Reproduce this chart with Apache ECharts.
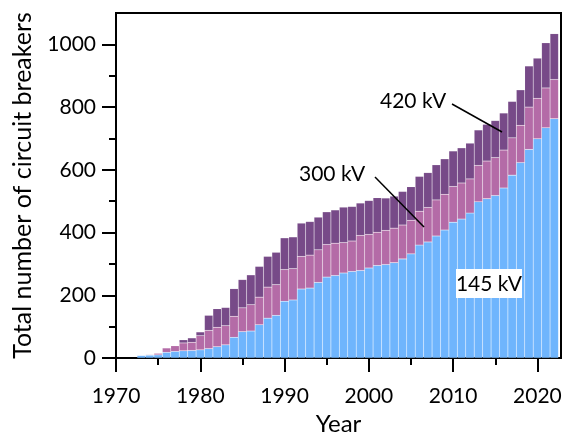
<!DOCTYPE html>
<html><head><meta charset="utf-8">
<script src="https://cdn.jsdelivr.net/npm/echarts@6/dist/echarts.min.js"></script>
<style>html,body{margin:0;padding:0;background:#fff}#c{width:565px;height:436px}</style>
</head><body><div id="c"></div>
<script>
const years = [1973,1974,1975,1976,1977,1978,1979,1980,1981,1982,1983,1984,1985,1986,1987,1988,1989,1990,1991,1992,1993,1994,1995,1996,1997,1998,1999,2000,2001,2002,2003,2004,2005,2006,2007,2008,2009,2010,2011,2012,2013,2014,2015,2016,2017,2018,2019,2020,2021,2022];
const kv145 = [8,9,10,18,21,23,24,26,30,36,42,66,84,86,106,127,136,181,185,220,223,241,258,263,271,276,279,287,295,298,304,316,332,360,370,389,408,433,443,462,498,508,518,542,583,623,665,699,734,763];
const kv300 = [0,2,5,14,18,25,26,45,58,62,61,67,76,84,88,99,98,101,100,104,105,104,104,103,97,97,112,107,106,109,110,108,107,108,110,115,114,114,115,109,116,120,121,121,119,119,135,129,127,125];
const kv420 = [0,0,0,0,0,10,14,12,48,59,58,88,90,95,98,98,103,101,101,106,107,104,104,106,113,110,103,108,110,103,102,107,107,111,111,112,113,113,112,114,113,117,118,118,116,113,131,128,144,146];
const seriesNames = ['145 kV','300 kV','420 kV'];
const xTickLabels = [1970,1980,1990,2000,2010,2020];
const xMinorTicks = [1975,1985,1995,2005,2015];
const yTickLabels = [0,200,400,600,800,1000];
const yMinorTicks = [100,300,500,700,900];

const X_MIN = 1970, X_MAX = 2022.8, Y_MIN = 0, Y_MAX = 1100;
const G = {left:116, right:4, top:13, bottom:78};
const gridW = 565 - G.left - G.right;
const barW = gridW / (X_MAX - X_MIN);
const FONT = 'Lato';
const colors = ['#6fb5fd','#b46ba7','#774a88'];

// value first so the stack is applied to the value dimension
function pairs(vals){ return years.map((y,i)=>[vals[i], y]); }
const chart = echarts.init(document.getElementById('c'), null, {renderer:'canvas'});
const txt = {fontFamily:FONT, fontSize:21, color:'#000'};
chart.setOption({
  animation:false,
  backgroundColor:'#fff',
  grid:{left:G.left,right:G.right,top:G.top,bottom:G.bottom,outerBoundsMode:'none',containLabel:false,show:true,borderColor:'#000',borderWidth:2,backgroundColor:'transparent'},
  xAxis:[{
    type:'value', min:X_MIN, max:X_MAX, interval:10,
    name:'Year', nameLocation:'middle', nameGap:54, nameTextStyle:{...txt, fontSize:24},
    axisLine:{show:true,onZero:false,lineStyle:{color:'#000',width:2}},
    axisTick:{show:true,inside:false,length:14,lineStyle:{color:'#000',width:2},customValues:xTickLabels},
    axisLabel:{...txt,margin:28,customValues:xTickLabels,formatter:v=>String(v)},
    splitLine:{show:false}
  },{
    type:'value', min:X_MIN, max:X_MAX, position:'bottom', offset:0,
    axisLine:{show:false},
    axisTick:{show:true,inside:false,length:7,lineStyle:{color:'#000',width:2},customValues:xMinorTicks},
    axisLabel:{show:false}, splitLine:{show:false}
  }],
  yAxis:[{
    type:'value', min:Y_MIN, max:Y_MAX, interval:100,
    name:'Total number of circuit breakers', nameLocation:'middle', nameGap:81, nameTextStyle:{...txt, fontSize:25},
    axisLine:{show:true,onZero:false,lineStyle:{color:'#000',width:2}},
    axisTick:{show:true,inside:false,length:14,lineStyle:{color:'#000',width:2},customValues:yTickLabels},
    axisLabel:{...txt,margin:20,customValues:yTickLabels,formatter:v=>String(v)},
    splitLine:{show:false}
  },{
    type:'value', min:Y_MIN, max:Y_MAX, position:'left', offset:0,
    axisLine:{show:false},
    axisTick:{show:true,inside:false,length:7,lineStyle:{color:'#000',width:2},customValues:yMinorTicks},
    axisLabel:{show:false}, splitLine:{show:false}
  }],
  series:[kv145,kv300,kv420].map((vals,i)=>({
    type:'bar', name:seriesNames[i], stack:'total', xAxisIndex:0, yAxisIndex:0,
    data:pairs(vals), encode:{x:1, y:0}, barWidth:barW,
    itemStyle:{color:colors[i], borderColor:'rgba(255,255,255,0.15)', borderWidth:0.5},
    emphasis:{disabled:true}
  })),
  graphic:[
    {type:'text', left:380, top:91, style:{text:'420 kV', font:'21px '+FONT, fill:'#000'}, z:100},
    {type:'line', shape:{x1:452,y1:104,x2:502,y2:132}, style:{stroke:'#000',lineWidth:1.5}, z:100},
    {type:'text', left:299, top:164, style:{text:'300 kV', font:'21px '+FONT, fill:'#000'}, z:100},
    {type:'line', shape:{x1:375,y1:177,x2:424,y2:227}, style:{stroke:'#000',lineWidth:1.5}, z:100},
    {type:'rect', shape:{x:456,y:269,width:66,height:29}, style:{fill:'#fff'}, z:100},
    {type:'text', x:489, y:284, style:{text:'145 kV', font:'21px '+FONT, fill:'#000', align:'center', verticalAlign:'middle'}, z:101}
  ]
});
</script>
</body></html>
